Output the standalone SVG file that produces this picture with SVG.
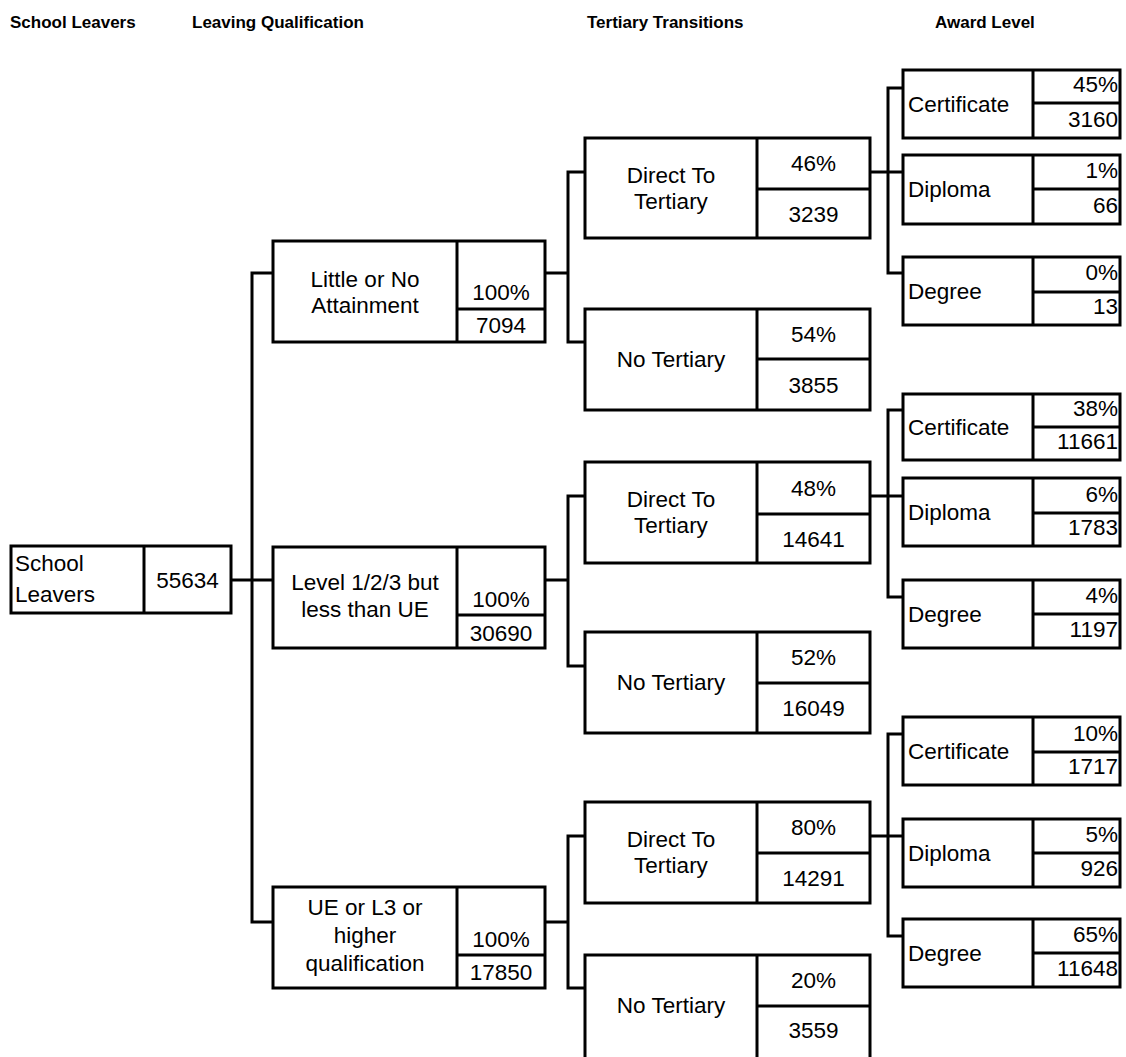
<svg xmlns="http://www.w3.org/2000/svg" width="1126" height="1057" viewBox="0 0 1126 1057">
<style>
.b{fill:#fff;stroke:#000;stroke-width:3}
.d{stroke:#000;stroke-width:3}
.c{fill:none;stroke:#000;stroke-width:3}
text{font-family:"Liberation Sans",Arial,sans-serif;font-size:22.5px;fill:#000}
.h{font-weight:bold;font-size:17px}
.m{text-anchor:middle}
.e{text-anchor:end}
</style>
<rect width="1126" height="1057" fill="#fff"/>
<g id="headers">
<text class="h" x="10" y="28">School Leavers</text>
<text class="h" x="192" y="28">Leaving Qualification</text>
<text class="h" x="587" y="28">Tertiary Transitions</text>
<text class="h" x="935" y="28">Award Level</text>
</g>
<g id="connectors">
<path class="c" d="M231,580 H273 M273,273 H252 V922 H273"/>
<path class="c" d="M545,273 H568 M585,172 H568 V342 H585"/>
<path class="c" d="M545,580 H568 M585,496 H568 V666 H585"/>
<path class="c" d="M545,922 H568 M585,836 H568 V988 H585"/>
<path class="c" d="M870,172 H903 M903,88 H888 V273 H903"/>
<path class="c" d="M870,496 H903 M903,410 H888 V597 H903"/>
<path class="c" d="M870,836 H903 M903,734 H888 V936 H903"/>
</g>
<g id="school-leavers">
<rect class="b" x="11" y="546" width="220" height="67"/>
<line class="d" x1="144" y1="546" x2="144" y2="613"/>
<text x="15" y="571">School</text>
<text x="15" y="602">Leavers</text>
<text class="m" x="187.5" y="588">55634</text>
</g>
<g id="q-little">
<rect class="b" x="273" y="241" width="272" height="101"/>
<path class="d" d="M457,241 V342 M457,309 H545"/>
<text class="m" x="365" y="287">Little or No</text>
<text class="m" x="365" y="313">Attainment</text>
<text class="m" x="501" y="300">100%</text>
<text class="m" x="501" y="333">7094</text>
</g>
<g id="q-level">
<rect class="b" x="273" y="547" width="272" height="101"/>
<path class="d" d="M457,547 V648 M457,615 H545"/>
<text class="m" x="365" y="590">Level 1/2/3 but</text>
<text class="m" x="365" y="617">less than UE</text>
<text class="m" x="501" y="607">100%</text>
<text class="m" x="501" y="641">30690</text>
</g>
<g id="q-ue">
<rect class="b" x="273" y="887" width="272" height="101"/>
<path class="d" d="M457,887 V988 M457,955 H545"/>
<text class="m" x="365" y="915">UE or L3 or</text>
<text class="m" x="365" y="943">higher</text>
<text class="m" x="365" y="971">qualification</text>
<text class="m" x="501" y="947">100%</text>
<text class="m" x="501" y="980">17850</text>
</g>
<g id="t-direct-1">
<rect class="b" x="585" y="138" width="285" height="100"/>
<path class="d" d="M757,138 V238 M757,189 H870"/>
<text class="m" x="671" y="183">Direct To</text>
<text class="m" x="671" y="209">Tertiary</text>
<text class="m" x="813.5" y="171">46%</text>
<text class="m" x="813.5" y="222">3239</text>
</g>
<g id="t-none-1">
<rect class="b" x="585" y="309" width="285" height="101"/>
<path class="d" d="M757,309 V410 M757,359 H870"/>
<text class="m" x="671" y="367">No Tertiary</text>
<text class="m" x="813.5" y="342">54%</text>
<text class="m" x="813.5" y="393">3855</text>
</g>
<g id="t-direct-2">
<rect class="b" x="585" y="462" width="285" height="101"/>
<path class="d" d="M757,462 V563 M757,514 H870"/>
<text class="m" x="671" y="507">Direct To</text>
<text class="m" x="671" y="533">Tertiary</text>
<text class="m" x="813.5" y="496">48%</text>
<text class="m" x="813.5" y="547">14641</text>
</g>
<g id="t-none-2">
<rect class="b" x="585" y="632" width="285" height="101"/>
<path class="d" d="M757,632 V733 M757,683 H870"/>
<text class="m" x="671" y="690">No Tertiary</text>
<text class="m" x="813.5" y="665">52%</text>
<text class="m" x="813.5" y="716">16049</text>
</g>
<g id="t-direct-3">
<rect class="b" x="585" y="802" width="285" height="101"/>
<path class="d" d="M757,802 V903 M757,853 H870"/>
<text class="m" x="671" y="847">Direct To</text>
<text class="m" x="671" y="873">Tertiary</text>
<text class="m" x="813.5" y="835">80%</text>
<text class="m" x="813.5" y="886">14291</text>
</g>
<g id="t-none-3">
<rect class="b" x="585" y="955" width="285" height="104"/>
<path class="d" d="M757,955 V1059 M757,1006 H870"/>
<text class="m" x="671" y="1013">No Tertiary</text>
<text class="m" x="813.5" y="988">20%</text>
<text class="m" x="813.5" y="1038">3559</text>
</g>
<g id="a-cert-1">
<rect class="b" x="903" y="70" width="217" height="68"/>
<path class="d" d="M1033,70 V138 M1033,103 H1120"/>
<text x="908" y="112">Certificate</text>
<text class="e" x="1118" y="92">45%</text>
<text class="e" x="1118" y="127">3160</text>
</g>
<g id="a-dip-1">
<rect class="b" x="903" y="155" width="217" height="69"/>
<path class="d" d="M1033,155 V224 M1033,189 H1120"/>
<text x="908" y="197">Diploma</text>
<text class="e" x="1118" y="178">1%</text>
<text class="e" x="1118" y="213">66</text>
</g>
<g id="a-deg-1">
<rect class="b" x="903" y="257" width="217" height="68"/>
<path class="d" d="M1033,257 V325 M1033,292 H1120"/>
<text x="908" y="299">Degree</text>
<text class="e" x="1118" y="280">0%</text>
<text class="e" x="1118" y="314">13</text>
</g>
<g id="a-cert-2">
<rect class="b" x="903" y="394" width="217" height="66"/>
<path class="d" d="M1033,394 V460 M1033,427 H1120"/>
<text x="908" y="435">Certificate</text>
<text class="e" x="1118" y="416">38%</text>
<text class="e" x="1118" y="449">11661</text>
</g>
<g id="a-dip-2">
<rect class="b" x="903" y="478" width="217" height="68"/>
<path class="d" d="M1033,478 V546 M1033,513 H1120"/>
<text x="908" y="520">Diploma</text>
<text class="e" x="1118" y="502">6%</text>
<text class="e" x="1118" y="535">1783</text>
</g>
<g id="a-deg-2">
<rect class="b" x="903" y="580" width="217" height="68"/>
<path class="d" d="M1033,580 V648 M1033,614 H1120"/>
<text x="908" y="622">Degree</text>
<text class="e" x="1118" y="603">4%</text>
<text class="e" x="1118" y="637">1197</text>
</g>
<g id="a-cert-3">
<rect class="b" x="903" y="717" width="217" height="68"/>
<path class="d" d="M1033,717 V785 M1033,752 H1120"/>
<text x="908" y="759">Certificate</text>
<text class="e" x="1118" y="741">10%</text>
<text class="e" x="1118" y="774">1717</text>
</g>
<g id="a-dip-3">
<rect class="b" x="903" y="819" width="217" height="68"/>
<path class="d" d="M1033,819 V887 M1033,853 H1120"/>
<text x="908" y="861">Diploma</text>
<text class="e" x="1118" y="842">5%</text>
<text class="e" x="1118" y="876">926</text>
</g>
<g id="a-deg-3">
<rect class="b" x="903" y="919" width="217" height="68"/>
<path class="d" d="M1033,919 V987 M1033,953 H1120"/>
<text x="908" y="961">Degree</text>
<text class="e" x="1118" y="942">65%</text>
<text class="e" x="1118" y="976">11648</text>
</g>
</svg>
